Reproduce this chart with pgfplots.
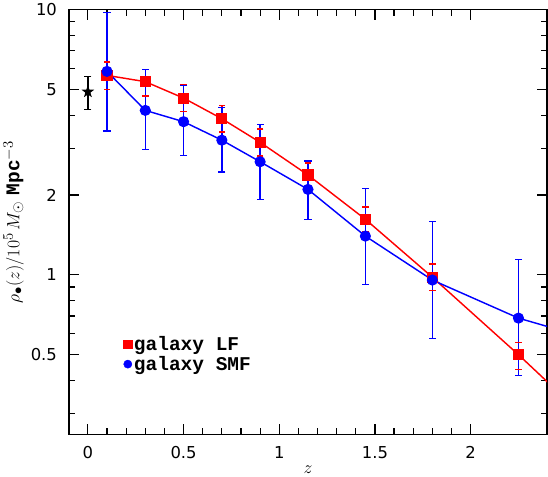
\documentclass[border=0pt]{standalone}
\usepackage{fontspec}
\setmainfont{DejaVu Sans}
\setmonofont{Liberation Mono}
\usepackage{pgfplots}
\pgfplotsset{compat=1.18}

% filled five-pointed star
\pgfdeclareplotmark{fivestar}{%
  \pgfpathmoveto{\pgfpoint{0pt}{\pgfplotmarksize}}%
  \pgfpathlineto{\pgfpoint{-0.235\pgfplotmarksize}{0.324\pgfplotmarksize}}%
  \pgfpathlineto{\pgfpoint{-0.951\pgfplotmarksize}{0.309\pgfplotmarksize}}%
  \pgfpathlineto{\pgfpoint{-0.380\pgfplotmarksize}{-0.124\pgfplotmarksize}}%
  \pgfpathlineto{\pgfpoint{-0.588\pgfplotmarksize}{-0.809\pgfplotmarksize}}%
  \pgfpathlineto{\pgfpoint{0pt}{-0.400\pgfplotmarksize}}%
  \pgfpathlineto{\pgfpoint{0.588\pgfplotmarksize}{-0.809\pgfplotmarksize}}%
  \pgfpathlineto{\pgfpoint{0.380\pgfplotmarksize}{-0.124\pgfplotmarksize}}%
  \pgfpathlineto{\pgfpoint{0.951\pgfplotmarksize}{0.309\pgfplotmarksize}}%
  \pgfpathlineto{\pgfpoint{0.235\pgfplotmarksize}{0.324\pgfplotmarksize}}%
  \pgfpathclose
  \pgfusepathqfill}

\begin{document}
\begin{tikzpicture}
\begin{axis}[
  scale only axis, width=465bp, height=413bp,
  xmin=-0.1, xmax=2.4,
  ymode=log, ymin=0.25, ymax=10,
  axis line style={line width=1.6bp},
  every tick/.style={line width=1.2bp, black},
  major tick length=10bp, minor tick length=6bp,
  tick align=inside,
  xtick={0,0.5,1,1.5,2}, xticklabels={0,0.5,1,1.5,2},
  minor x tick num=4,
  ytick={0.5,1,2,5,10}, yticklabels={0.5,1,2,5,10},
  minor ytick={0.3,0.4,0.6,0.7,0.8,0.9,3,4,6,7,8,9},
  tick label style={font=\fontsize{16}{18}\selectfont},
  xticklabel style={yshift=-8bp},
  yticklabel style={xshift=-8bp},
  xlabel={$z$},
  xlabel style={font=\fontsize{19}{22}\selectfont},
  ylabel={$\rho_{\bullet}(z)/10^{5}\,M_{\odot}$ \texttt{\bfseries Mpc}$^{-3}$},
  ylabel style={font=\fontsize{19}{22}\selectfont},
  legend style={draw=none, fill=none, at={(0.108,0.189)}, anchor=west,
    font=\ttfamily\bfseries\fontsize{19}{22}\selectfont},
  legend cell align=left,
  unbounded coords=jump,
]
\addlegendimage{only marks, red, mark=square*, mark size=4bp}
\addlegendentry{galaxy LF}
\addlegendimage{only marks, blue, mark=*, mark size=4bp}
\addlegendentry{galaxy SMF}

% local value (star) and its error bar
\addplot[black, line width=1.3bp, mark=-, mark size=3.5bp, forget plot]
  coordinates {(0,4.2) (0,5.6)};
\addplot[black, only marks, mark=fivestar, mark size=6.5bp, forget plot]
  coordinates {(0,4.9)};

% galaxy LF: error bars (low, high), then values
\addplot[red, line width=1.3bp, mark=-, mark size=3.2bp, forget plot] coordinates {
  (0.1,5.00) (0.1,6.35) (0.1,nan)
  (0.3,4.72) (0.3,5.96) (0.3,nan)
  (0.5,4.13) (0.5,5.21) (0.5,nan)
  (0.7,3.46) (0.7,4.36) (0.7,nan)
  (0.9,2.81) (0.9,3.55) (0.9,nan)
  (1.15,2.13) (1.15,2.64) (1.15,nan)
  (1.45,1.45) (1.45,1.80) (1.45,nan)
  (1.8,0.875) (1.8,1.10) (1.8,nan)
  (2.25,0.44) (2.25,0.555)
};
\addplot[red, line width=1.4bp, mark=square*, mark size=4.7bp, mark options={solid, fill=red}, forget plot]
  coordinates {(0.1,5.65) (0.3,5.35) (0.5,4.64) (0.7,3.88) (0.9,3.16) (1.15,2.38) (1.45,1.62) (1.8,0.98) (2.25,0.50)};
\addplot[red, line width=1.4bp, forget plot] coordinates {(2.25,0.50) (2.75,0.229)};

% galaxy SMF: error bars (low, high), then values
\addplot[blue, line width=1.3bp, mark=-, mark size=3.5bp, forget plot] coordinates {
  (0.1,3.49) (0.1,9.73) (0.1,nan)
  (0.3,2.97) (0.3,5.96) (0.3,nan)
  (0.5,2.82) (0.5,5.17) (0.5,nan)
  (0.7,2.44) (0.7,4.28) (0.7,nan)
  (0.9,1.92) (0.9,3.68) (0.9,nan)
  (1.15,1.62) (1.15,2.69) (1.15,nan)
  (1.45,0.92) (1.45,2.12) (1.45,nan)
  (1.8,0.575) (1.8,1.59) (1.8,nan)
  (2.25,0.417) (2.25,1.14)
};
\addplot[blue, line width=1.4bp, mark=*, mark size=4.7bp, mark options={solid, fill=blue}, forget plot]
  coordinates {(0.1,5.85) (0.3,4.17) (0.5,3.78) (0.7,3.22) (0.9,2.67) (1.15,2.10) (1.45,1.40) (1.8,0.956) (2.25,0.687)};
\addplot[blue, line width=1.4bp, forget plot] coordinates {(2.25,0.687) (2.75,0.54)};
\end{axis}
\end{tikzpicture}
\end{document}
